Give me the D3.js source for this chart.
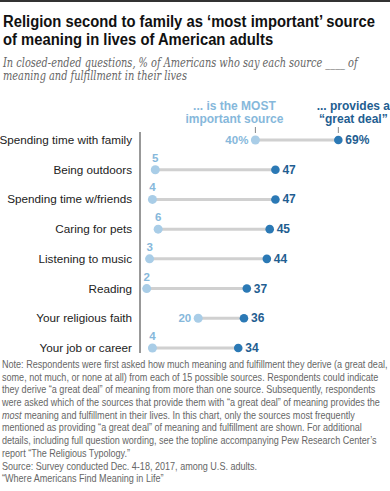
<!DOCTYPE html>
<html><head><meta charset="utf-8">
<script src="https://cdn.jsdelivr.net/npm/d3@7/dist/d3.min.js"></script>
<style>
html,body{margin:0;padding:0;background:#fff;}
svg{display:block;}
</style></head>
<body>
<svg id="chart" width="390" height="491"></svg>
<script>
const categories = ["Spending time with family","Being outdoors","Spending time w/friends","Caring for pets","Listening to music","Reading","Your religious faith","Your job or career"];
const mostImportant = [40,5,4,6,3,2,20,4];
const greatDeal = [69,47,47,45,44,37,36,34];
const titleLines = ["Religion second to family as \u2018most important\u2019 source","of meaning in lives of American adults"];
const subtitleLines = ["In closed-ended questions, % of Americans who say each source ____ of","meaning and fulfillment in their lives"];
const legendMost = ["... is the MOST","important source"];
const legendGreat = ["... provides a","\u201cgreat deal\u201d"];
const noteLines = [
 [["Note: Respondents were first asked how much meaning and fulfillment they derive (a great deal,",false]],
 [["some, not much, or none at all) from each of 15 possible sources. Respondents could indicate",false]],
 [["they derive \u201ca great deal\u201d of meaning from more than one source. Subsequently, respondents",false]],
 [["were asked which of the sources that provide them with \u201ca great deal\u201d of meaning provides the",false]],
 [["most",true],[" meaning and fulfillment in their lives. In this chart, only the sources most frequently",false]],
 [["mentioned as providing \u201ca great deal\u201d of meaning and fulfillment are shown. For additional",false]],
 [["details, including full question wording, see the topline accompanying Pew Research Center\u2019s",false]],
 [["report \u201cThe Religious Typology.\u201d",false]],
 [["Source: Survey conducted Dec. 4-18, 2017, among U.S. adults.",false]],
 [["\u201cWhere Americans Find Meaning in Life\u201d",false]]
];

const DARK = "#2b79b5", DARK_TXT = "#1f5e91", LIGHT = "#a9cde7", LIGHT_TXT = "#86b8db", LINE = "#d0d0d0";
const svg = d3.select("#chart");

// top rule
svg.append("line").attr("x1",0).attr("x2",390).attr("y1",1).attr("y2",1).attr("stroke","#333").attr("stroke-width",2);

// title
const tg = svg.append("g");
titleLines.forEach((t,i)=>{
  tg.append("text").attr("x",3).attr("y",27+i*18.5).text(t)
    .attr("font-family","Liberation Sans, Arial, sans-serif").attr("font-weight","bold")
    .attr("font-size",17).attr("fill","#111");
});
{ const w = tg.select("text").node().getComputedTextLength();
  const s = 372/w; tg.attr("transform",`translate(3,0) scale(${s},1) translate(-3,0)`); }

// subtitle
const sg = svg.append("g");
subtitleLines.forEach((t,i)=>{
  sg.append("text").attr("x",3).attr("y",67+i*13.5).text(t)
    .attr("font-family","DejaVu Serif, Georgia, serif").attr("font-style","italic")
    .attr("font-size",12.5).attr("fill","#666");
});
{ const w = sg.select("text").node().getComputedTextLength();
  const s = 355/w; sg.attr("transform",`translate(3,0) scale(${s},1) translate(-3,0)`); }

const x = d3.scaleLinear().domain([0,100]).range([141,427]);
const y = d3.scalePoint().domain(categories).range([140,348]);

// axis line
svg.append("line").attr("x1",140).attr("x2",140).attr("y1",132).attr("y2",353).attr("stroke","#333").attr("stroke-width",1);

// legend headers
const hdr = (lines, cx, color) => lines.forEach((t,i)=>{
  svg.append("text").attr("x",cx).attr("y",110+i*12.5).attr("text-anchor","middle")
    .attr("font-family","Liberation Sans, Arial, sans-serif").attr("font-weight","bold")
    .attr("font-size",12).attr("fill",color).text(t);
});
hdr(legendMost, x(mostImportant[0]) - 21, LIGHT_TXT);
hdr(legendGreat, x(greatDeal[0]) + 15, DARK_TXT);
[x(mostImportant[0]), x(greatDeal[0])].forEach(px=>{
  svg.append("line").attr("x1",px).attr("x2",px).attr("y1",127).attr("y2",133).attr("stroke","#888").attr("stroke-width",1);
});

const data = categories.map((c,i)=>({c, m: mostImportant[i], g: greatDeal[i], i}));

// category labels
svg.append("g").selectAll("text").data(data).join("text")
  .attr("x",132).attr("y",d=>y(d.c)+4).attr("text-anchor","end")
  .attr("font-family","Liberation Sans, Arial, sans-serif").attr("font-size",11.7).attr("fill","#222")
  .text(d=>d.c);

// connecting lines
svg.append("g").selectAll("line").data(data).join("line")
  .attr("x1",d=>x(d.m)).attr("x2",d=>x(d.g)).attr("y1",d=>y(d.c)).attr("y2",d=>y(d.c))
  .attr("stroke",LINE).attr("stroke-width",3);

// dots
svg.append("g").selectAll("circle").data(data).join("circle")
  .attr("cx",d=>x(d.m)).attr("cy",d=>y(d.c)).attr("r",4.5).attr("fill",LIGHT);
svg.append("g").selectAll("circle").data(data).join("circle")
  .attr("cx",d=>x(d.g)).attr("cy",d=>y(d.c)).attr("r",4.3).attr("fill",DARK);

// light value labels
svg.append("g").selectAll("text").data(data).join("text")
  .attr("x",d=> d.m>=10 ? x(d.m)-7 : x(d.m))
  .attr("y",d=> d.m>=10 ? y(d.c)+4 : y(d.c)-8)
  .attr("text-anchor",d=> d.m>=10 ? "end" : "middle")
  .attr("font-family","Liberation Sans, Arial, sans-serif").attr("font-weight","bold")
  .attr("font-size",11.5).attr("fill",LIGHT_TXT)
  .text(d=> d.i===0 ? d.m+"%" : d.m);

// dark value labels
svg.append("g").selectAll("text").data(data).join("text")
  .attr("x",d=>x(d.g)+7).attr("y",d=>y(d.c)+4)
  .attr("font-family","Liberation Sans, Arial, sans-serif").attr("font-weight","bold")
  .attr("font-size",12).attr("fill",DARK_TXT)
  .text(d=> d.i===0 ? d.g+"%" : d.g);

// notes
const ng = svg.append("g");
noteLines.forEach((parts,i)=>{
  const t = ng.append("text").attr("x",2).attr("y",368+i*12.7)
    .attr("font-family","Liberation Sans, Arial, sans-serif").attr("font-size",10.3).attr("fill","#666");
  parts.forEach(([s,it])=>{ t.append("tspan").attr("font-style",it?"italic":"normal").text(s); });
});
{ const w = ng.select("text").node().getComputedTextLength();
  const s = 386/w; ng.attr("transform",`translate(2,0) scale(${s},1) translate(-2,0)`); }
</script>
</body></html>
